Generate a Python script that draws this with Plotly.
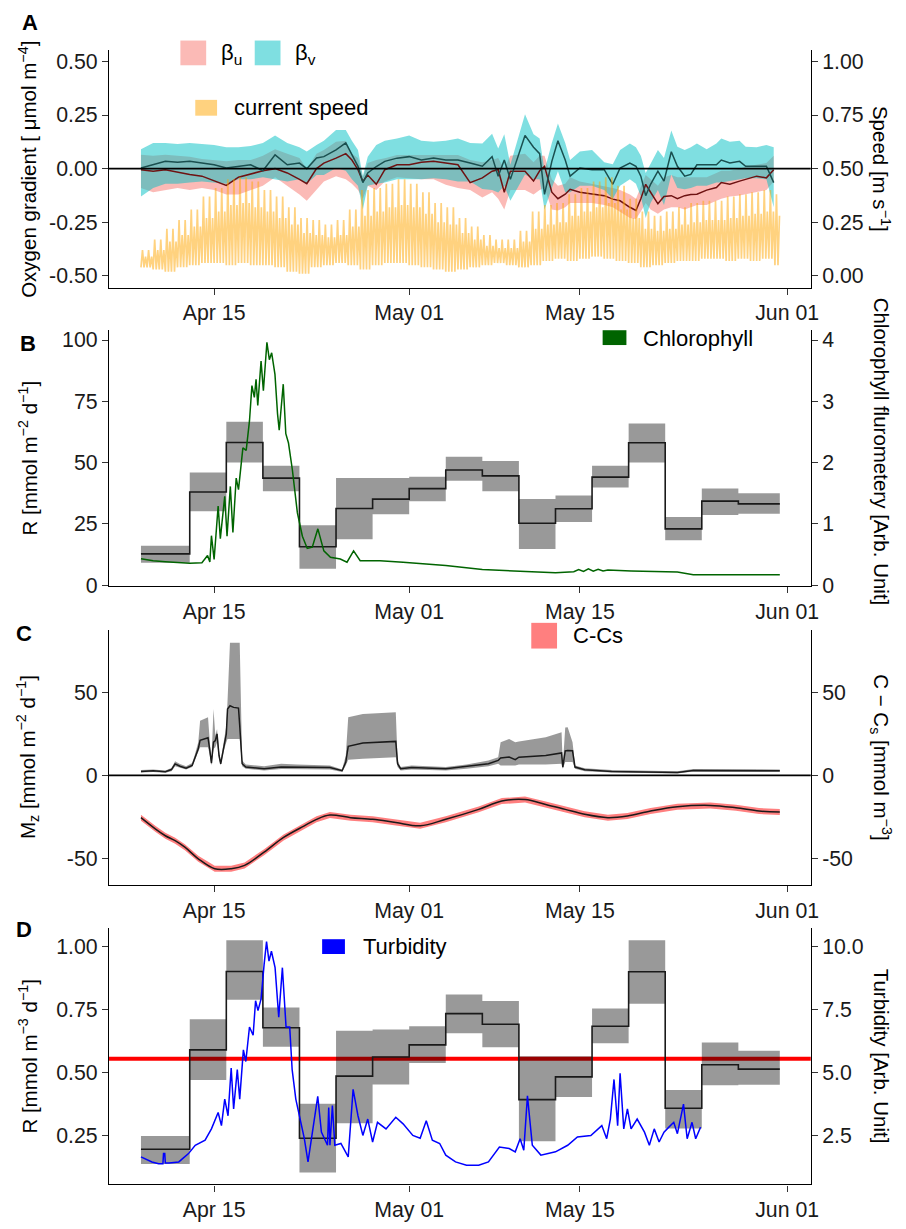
import plotly.graph_objects as go
from datetime import datetime, timedelta

W, H = 906, 1229
BASE = datetime(2018, 4, 15)          # day 0 = Apr 15


def dt(days):
    return [BASE + timedelta(days=float(d)) for d in days]


def px(x):
    return x / W


def py(y):
    return 1 - y / H


# ---------------- Panel A : oxygen gradients & current speed ----------------
beta_t = [-6, -5, -4, -3, -2, -1, 0, 1, 2, 3, 4, 5, 6, 7, 7.6, 8.4, 9, 10, 10.8, 11.3, 11.8, 12.2, 12.6, 13.3,
          14, 15, 16, 17, 18, 19, 20, 21, 22, 22.8, 23.3, 23.8, 24.3, 25.5, 26.2, 26.7, 27.1, 27.7, 28.2, 28.8,
          29.2, 30, 31, 32, 32.7, 33.3, 34.1, 34.6, 35.0, 35.4, 35.8, 36.4, 36.9, 37.5, 38, 38.6, 39.1, 39.6,
          40.4, 41.2, 41.6, 42.3, 43.1, 43.6, 44.5, 45.3, 45.9]
beta_v = [0.003, 0.018, 0.034, 0.03, 0.034, 0.026, 0.018, 0.003, 0.011, 0.018, -0.01, 0.064, 0.018, 0.026,
          0.0, 0.05, 0.056, 0.087, 0.12, 0.064, 0.011, -0.065, -0.02, 0.01,
          0.034, 0.049, 0.056, 0.04, 0.049, 0.04, 0.04, 0.026, 0.011,
          0.056, -0.035, 0.04, -0.05, 0.155, 0.10, 0.07, -0.12, 0.034, 0.13, 0.04, -0.035,
          0.003, -0.005, -0.005, -0.073, 0.003, 0.026, 0.011,
          -0.035, -0.126, -0.073, -0.012, -0.058, 0.079, 0.011, -0.035, -0.027, 0.018,
          0.018, 0.018, 0.04, 0.026, 0.034, 0.011, 0.011, 0.011, -0.065]
beta_v_lo = [-0.13, -0.09, -0.07, -0.07, -0.065, -0.06, -0.065, -0.07, -0.05, -0.05, -0.04, -0.05, -0.06, -0.05,
             -0.07, -0.03, -0.03, 0.003, -0.01, -0.05, -0.08, -0.19, -0.08, -0.07,
             -0.065, -0.05, -0.05, -0.05, -0.045, -0.05, -0.06, -0.06, -0.095,
             -0.10, -0.111, -0.08, -0.15, -0.027, -0.05, -0.05, -0.19, -0.09, -0.012, -0.11, -0.11,
             -0.08, -0.08, -0.10, -0.14, -0.08, -0.05, -0.07,
             -0.13, -0.23, -0.16, -0.10, -0.17, -0.027, -0.09, -0.096, -0.09, -0.08,
             -0.08, -0.065, -0.065, -0.058, -0.05, -0.045, -0.045, -0.05, -0.18]
beta_v_hi = [0.09, 0.12, 0.12, 0.115, 0.12, 0.115, 0.11, 0.10, 0.10, 0.105, 0.12, 0.155, 0.12, 0.10,
             0.08, 0.11, 0.13, 0.18, 0.18, 0.13, 0.087, -0.035, 0.056, 0.11,
             0.13, 0.14, 0.155, 0.13, 0.125, 0.13, 0.14, 0.12, 0.117,
             0.163, 0.094, 0.16, 0.018, 0.254, 0.16, 0.14, -0.01, 0.12, 0.21, 0.12, 0.04,
             0.08, 0.087, 0.03, 0.02, 0.087, 0.117, 0.10,
             0.06, -0.02, 0.02, 0.087, 0.05, 0.178, 0.102, 0.087, 0.10, 0.117,
             0.09, 0.117, 0.14, 0.125, 0.13, 0.102, 0.10, 0.11, 0.10]
beta_u = [-0.005, -0.012, -0.005, -0.017, -0.027, -0.035, -0.055, -0.078, -0.04, -0.025, -0.01, 0.0, -0.02, -0.05,
          -0.07, 0.0, 0.026, 0.049, 0.07, 0.04, -0.005, -0.06, -0.03, -0.073,
          -0.005, 0.018, 0.018, 0.03, 0.034, 0.026, 0.018, -0.065, -0.043,
          -0.012, -0.005, -0.11, -0.012, -0.012, -0.058, -0.01, 0.011, -0.11, -0.14, -0.119, -0.096,
          -0.11, -0.119, -0.126, -0.142, -0.15, -0.18, -0.195,
          -0.14, -0.073, -0.11, -0.164, -0.13, -0.126, -0.14, -0.126, -0.12, -0.119,
          -0.10, -0.088, -0.065, -0.073, -0.058, -0.05, -0.035, -0.043, -0.005]
beta_u_lo = [-0.09, -0.11, -0.10, -0.09, -0.10, -0.09, -0.10, -0.12, -0.12, -0.10, -0.08, -0.04, -0.08, -0.12,
             -0.15, -0.10, -0.06, -0.035, -0.05, -0.07, -0.10, -0.14, -0.08, -0.10,
             -0.06, -0.04, -0.045, -0.05, -0.05, -0.075, -0.09, -0.10, -0.134,
             -0.11, -0.14, -0.19, -0.10, -0.10, -0.12, -0.10, -0.09, -0.19, -0.195, -0.18, -0.16,
             -0.16, -0.16, -0.17, -0.18, -0.20, -0.23, -0.235,
             -0.20, -0.16, -0.19, -0.21, -0.19, -0.18, -0.18, -0.19, -0.18, -0.17,
             -0.17, -0.15, -0.14, -0.13, -0.125, -0.12, -0.11, -0.10, -0.06]
beta_u_hi = [0.065, 0.06, 0.065, 0.06, 0.055, 0.045, 0.04, 0.035, 0.04, 0.04, 0.06, 0.09, 0.07, 0.05,
             0.0, 0.07, 0.087, 0.125, 0.13, 0.07, 0.05, -0.04, 0.026, 0.04,
             0.049, 0.064, 0.064, 0.064, 0.064, 0.064, 0.064, 0.04, 0.03,
             0.04, 0.05, 0.0, 0.06, 0.07, 0.03, 0.06, 0.06, -0.05, -0.08, -0.07, -0.04,
             -0.06, -0.07, -0.08, -0.09, -0.10, -0.12, -0.14,
             -0.08, -0.03, -0.05, -0.08, -0.04, -0.03, -0.04, -0.04, -0.04, -0.04,
             -0.04, -0.02, -0.01, -0.01, 0.0, 0.01, 0.02, 0.026, 0.06]

speed_day = list(range(-6, 47))
speed_peak = [0.12, 0.17, 0.22, 0.26, 0.31, 0.37, 0.41, 0.45, 0.46, 0.44, 0.40, 0.37, 0.32, 0.27, 0.26, 0.24, 0.26,
              0.31, 0.40, 0.41, 0.43, 0.45, 0.43, 0.39, 0.34, 0.32, 0.27, 0.23, 0.19, 0.17, 0.17, 0.21, 0.30,
              0.33, 0.34, 0.38, 0.41, 0.44, 0.46, 0.42, 0.36, 0.30, 0.28, 0.30, 0.32, 0.34, 0.35, 0.35, 0.37,
              0.38, 0.39, 0.40, 0.38]
speed_minor = [0.09, 0.12, 0.16, 0.19, 0.23, 0.27, 0.30, 0.33, 0.34, 0.32, 0.30, 0.27, 0.24, 0.20, 0.19, 0.18,
               0.19, 0.23, 0.28, 0.30, 0.32, 0.33, 0.32, 0.29, 0.25, 0.24, 0.20, 0.17, 0.14, 0.13, 0.13, 0.16,
               0.22, 0.24, 0.25, 0.28, 0.30, 0.32, 0.34, 0.31, 0.27, 0.22, 0.21, 0.22, 0.24, 0.25, 0.26, 0.26,
               0.27, 0.28, 0.29, 0.30, 0.28]
speed_trough = [0.04, 0.03, 0.02, 0.04, 0.05, 0.06, 0.06, 0.05, 0.06, 0.05, 0.05, 0.04, 0.02, 0.01, 0.04, 0.05,
                0.06, 0.05, 0.03, 0.05, 0.06, 0.06, 0.05, 0.04, 0.03, 0.02, 0.03, 0.04, 0.05, 0.06, 0.05, 0.04,
                0.05, 0.07, 0.08, 0.07, 0.08, 0.09, 0.08, 0.07, 0.06, 0.04, 0.05, 0.06, 0.07, 0.07, 0.08, 0.08,
                0.07, 0.08, 0.07, 0.08, 0.05]
speed_end = 46.4

# ---------------- step periods shared by panels B and D ----------------
step_start = [-6, -2, 1, 4, 7, 10, 13, 16, 19, 22, 25, 28, 31, 34, 37, 40, 43]
step_end = 46.4

# ---------------- Panel B : areal respiration & chlorophyll ----------------
R_area = [12.8, 38.0, 58.2, 43.7, 15.7, 31.3, 35.1, 39.4, 47.0, 44.6, 25.3, 31.2, 44.1, 58.1, 23.0, 34.3, 33.2]
R_area_lo = [9.2, 30.2, 50.1, 38.3, 6.7, 18.8, 28.9, 34.3, 42.6, 38.3, 14.8, 25.8, 39.9, 50.1, 18.3, 28.6, 29.2]
R_area_hi = [16.1, 46.0, 66.7, 48.7, 24.5, 43.7, 43.7, 44.2, 52.4, 50.7, 35.2, 36.6, 48.7, 66.0, 27.8, 39.5, 37.5]

chl_t = [-6, -5, -4, -3, -2, -1, -0.54, -0.35, -0.22, 0.0, 0.33, 0.51, 0.87, 1.06, 1.33, 1.54, 1.81, 2.0,
         2.36, 2.63, 2.9, 3.1, 3.3, 3.44, 3.58, 3.85, 4.04, 4.33, 4.53, 4.72, 4.99, 5.2, 5.34, 5.67, 5.88, 6.1,
         6.42, 6.83, 7.24, 7.64, 8.05, 8.51, 9.0, 9.54, 10.35, 10.9, 11.44, 11.98, 13.6, 15.5, 19.0, 22.0, 25.0,
         28.0, 29.5, 29.9, 30.3, 30.7, 31.1, 31.5, 31.9, 32.3, 34.2, 38.0, 39.3, 46.4]
chl = [0.432, 0.40, 0.384, 0.376, 0.36, 0.368, 0.484, 0.38, 0.808, 0.42, 1.292, 0.76, 1.452, 0.80, 1.612, 0.86,
       1.748, 1.56, 2.24, 2.20, 2.68, 3.256, 3.064, 3.36, 2.932, 3.656, 3.172, 3.964, 3.68, 3.792, 3.44, 2.80,
       2.528, 3.28, 2.472, 2.32, 1.88, 1.18, 0.80, 0.60, 0.62, 0.92, 0.56, 0.456, 0.428, 0.376, 0.56, 0.40,
       0.40, 0.376, 0.32, 0.256, 0.232, 0.204, 0.22, 0.256, 0.224, 0.268, 0.228, 0.26, 0.232, 0.248, 0.232,
       0.216, 0.172, 0.172]

# ---------------- Panel C : Mz and C - Cs ----------------
mz_t = [-6.0, -5.0, -4.0, -3.5, -3.2, -2.8, -2.3, -1.8, -1.6, -1.3, -1.15, -0.5, -0.35, -0.22, -0.05, 0.1, 0.24,
        0.4, 0.54, 0.8, 1.0, 1.1, 1.3, 1.6, 2.0, 2.1, 2.3, 2.6, 4.1, 5.5, 6.8, 9.5, 10.5, 10.8, 11.0, 12.2, 14.9,
        15.05, 15.3, 16.2, 19.0, 20.7, 22.5, 23.3, 23.5, 24.2, 24.7, 25.0, 27.2, 28.5, 28.6, 28.8, 29.0, 29.4,
        29.6, 30.4, 32.6, 38.0, 39.3, 46.4]
mz = [2.4, 2.8, 2.2, 3.5, 6.9, 5.5, 4.3, 6.0, 10.0, 16.0, 21.2, 22.7, 15.0, 7.3, 20.0, 21.0, 25.0, 12.0, 7.0, 18.0,
      25.0, 40.0, 42.0, 41.0, 40.6, 30.0, 7.0, 5.0, 4.0, 5.0, 5.0, 4.8, 2.8, 8.0, 17.5, 19.5, 20.5, 7.0, 4.0, 4.8,
      4.0, 5.3, 7.0, 9.0, 10.5, 11.0, 9.5, 11.0, 12.0, 13.5, 5.0, 14.8, 15.0, 14.8, 5.0, 3.4, 2.4, 1.8, 3.0, 2.8]
mz_lo = [1.8, 2.0, 1.6, 2.5, 5.5, 4.5, 3.5, 5.0, 8.5, 14.0, 17.0, 17.0, 12.0, 6.0, 16.0, 17.0, 20.0, 10.0, 6.0,
         15.0, 20.0, 22.0, 22.0, 22.0, 22.0, 22.0, 5.5, 4.0, 3.0, 3.8, 3.8, 3.5, 2.0, 6.0, 9.4, 10.0, 11.0, 5.0,
         3.0, 3.5, 3.0, 4.0, 5.5, 7.0, 6.0, 6.0, 6.0, 6.5, 6.5, 7.0, 4.0, 8.0, 8.0, 8.0, 4.0, 2.5, 1.8, 1.2, 2.3,
         2.0]
mz_hi = [3.2, 3.6, 3.0, 4.5, 8.5, 6.8, 5.5, 7.5, 12.0, 20.0, 33.0, 35.0, 20.0, 9.0, 40.0, 24.0, 28.0, 15.0, 9.0,
         22.0, 30.0, 45.0, 80.0, 80.0, 80.0, 80.0, 9.0, 6.5, 5.5, 7.0, 6.5, 6.0, 3.6, 12.0, 35.0, 37.0, 38.0, 9.0,
         5.0, 6.0, 5.0, 6.5, 9.0, 11.0, 20.0, 22.0, 20.0, 20.5, 23.0, 26.0, 6.0, 28.8, 29.0, 20.0, 6.0, 4.3, 3.2,
         2.5, 3.8, 3.6]

ccs_t = [-6.0, -4.8, -4.0, -3.2, -2.4, -1.3, 0.05, 1.4, 2.5, 4.1, 5.7, 7.4, 8.4, 9.5, 11.2, 13.0, 14.9, 16.9,
         19.0, 21.7, 23.6, 25.5, 27.2, 28.8, 30.4, 32.3, 33.9, 35.8, 38.0, 40.7, 42.8, 44.7, 46.4]
ccs = [-25.5, -32.4, -36.4, -39.4, -43.3, -50.3, -56.3, -56.3, -54.3, -46.3, -37.4, -30.4, -26.5, -23.9, -25.5,
       -26.5, -28.4, -30.4, -26.5, -20.5, -15.5, -14.6, -17.5, -20.5, -23.5, -25.5, -24.5, -21.5, -18.9, -18.1,
       -19.5, -21.5, -22.1]
ccs_lo = [-27.3, -34.2, -38.2, -41.2, -45.1, -52.1, -58.1, -58.1, -56.1, -48.1, -39.2, -32.2, -28.3, -25.7, -27.3,
          -28.3, -30.2, -32.2, -28.3, -22.3, -17.3, -16.4, -19.3, -22.3, -25.3, -27.3, -26.3, -23.3, -20.7, -19.9,
          -21.3, -23.3, -23.9]
ccs_hi = [-23.7, -30.6, -34.6, -37.6, -41.5, -48.5, -54.5, -54.5, -52.5, -44.5, -35.6, -28.6, -24.7, -22.1, -23.7,
          -24.7, -26.6, -28.6, -24.7, -18.7, -13.7, -12.8, -15.7, -18.7, -21.7, -23.7, -22.7, -19.7, -17.1, -16.3,
          -17.7, -19.7, -20.3]

# ---------------- Panel D : volumetric respiration & turbidity ----------------
R_vol = [0.197, 0.591, 0.902, 0.679, 0.241, 0.487, 0.563, 0.611, 0.735, 0.693, 0.394, 0.484, 0.685, 0.901, 0.360,
         0.532, 0.515]
R_vol_lo = [0.139, 0.472, 0.790, 0.604, 0.105, 0.300, 0.454, 0.539, 0.657, 0.602, 0.229, 0.404, 0.617, 0.774,
            0.280, 0.451, 0.453]
R_vol_hi = [0.250, 0.713, 1.026, 0.759, 0.378, 0.667, 0.672, 0.685, 0.811, 0.785, 0.566, 0.566, 0.755, 1.026,
            0.432, 0.620, 0.588]
R_vol_mean = 0.556

turb_t = [-6.0, -5.1, -4.55, -4.2, -4.15, -4.05, -4.0, -3.7, -2.9, -2.1, -1.55, -0.74, -0.22, 0.33, 0.6, 0.87,
          1.14, 1.4, 1.6, 1.9, 2.1, 2.4, 2.6, 2.9, 3.2, 3.4, 3.6, 3.85, 4.1, 4.3, 4.5, 4.7, 5.0, 5.3, 5.6, 5.9,
          6.2, 6.4, 6.7, 7.0, 7.4, 7.7, 8.0, 8.5, 8.8, 9.3, 9.4, 9.5, 9.7, 9.9, 10.4, 11.0, 11.4, 11.8, 12.2,
          12.6, 13.0, 13.4, 14.1, 14.9, 15.5, 16.3, 16.9, 17.4, 17.9, 18.5, 19.0, 19.8, 20.7, 21.7, 22.5, 23.4,
          24.2, 24.7, 25.1, 25.4, 25.7, 26.1, 26.8, 28.0, 29.0, 29.8, 30.9, 31.8, 32.2, 32.5, 32.8, 33.1, 33.3,
          33.6, 33.9, 34.2, 34.7, 35.3, 35.7, 36.1, 36.5, 36.9, 37.3, 37.7, 38.0, 38.5, 38.8, 39.2, 39.5, 39.9]
turb = [1.67, 1.47, 1.40, 1.40, 1.80, 1.80, 1.43, 1.43, 1.47, 1.80, 2.13, 2.33, 2.78, 3.43, 2.91, 3.96, 3.30, 5.19,
        3.57, 5.13, 3.96, 5.91, 5.45, 6.82, 6.49, 7.86, 7.47, 7.93, 9.30, 10.2, 9.43, 9.82, 9.17, 7.21, 9.17, 6.82,
        6.82, 5.13, 3.96, 3.30, 2.39, 1.47, 2.39, 4.07, 2.65, 2.13, 3.63, 2.13, 3.70, 2.13, 2.20, 1.67, 4.35, 3.30,
        2.52, 3.17, 2.26, 3.04, 2.78, 3.24, 2.98, 2.52, 2.41, 3.10, 2.33, 2.20, 1.74, 1.47, 1.34, 1.34, 1.47, 2.06,
        2.00, 1.87, 2.39, 1.93, 4.09, 2.13, 1.74, 1.87, 2.13, 2.46, 2.52, 2.91, 2.39, 3.17, 4.74, 2.91, 4.98, 2.78,
        3.57, 2.78, 3.17, 2.65, 2.13, 2.78, 2.26, 2.65, 2.85, 3.04, 2.59, 3.76, 2.39, 3.04, 2.39, 2.85]

# ---------------- tick labels ----------------
date_ticks = [0, 16, 30, 47]
date_labels = ["Apr 15", "May 01", "May 15", "Jun 01"]

# ======================================================================
FONT = "Liberation Sans, Arial, sans-serif"
GRAY_RIBBON = "rgba(0,0,0,0.4)"
fig = go.Figure()


def poly_band(t, lo, hi, xa, ya, color):
    fig.add_trace(go.Scatter(x=dt(list(t) + list(t)[::-1]), y=list(hi) + list(lo)[::-1], fill="toself",
                             fillcolor=color, line=dict(width=0), mode="lines", xaxis=xa, yaxis=ya,
                             hoverinfo="skip", showlegend=False))


def step_band(lo, hi, xa, ya, color):
    xs = dt(step_start + [step_end])
    fig.add_trace(go.Scatter(x=xs, y=lo + [lo[-1]], mode="lines", line=dict(width=0, shape="hv"),
                             xaxis=xa, yaxis=ya, hoverinfo="skip", showlegend=False))
    fig.add_trace(go.Scatter(x=xs, y=hi + [hi[-1]], mode="lines", line=dict(width=0, shape="hv"),
                             fill="tonexty", fillcolor=color, xaxis=xa, yaxis=ya, hoverinfo="skip",
                             showlegend=False))


def step_line(vals, xa, ya):
    fig.add_trace(go.Scatter(x=dt(step_start + [step_end]), y=vals + [vals[-1]], mode="lines",
                             line=dict(color="#1a1a1a", width=1.6, shape="hv"), xaxis=xa, yaxis=ya,
                             showlegend=False))


def line(t, v, xa, ya, color, width=1.5, shape="linear"):
    fig.add_trace(go.Scatter(x=dt(t), y=v, mode="lines", line=dict(color=color, width=width, shape=shape),
                             xaxis=xa, yaxis=ya, showlegend=False))


# ---- Panel A ----
poly_band(beta_t, beta_u_lo, beta_u_hi, "x", "y", "rgba(248,118,109,0.5)")
poly_band(beta_t, beta_v_lo, beta_v_hi, "x", "y", "rgba(0,191,196,0.5)")
line(beta_t, beta_u, "x", "y", "#6e1212", 1.5)
line(beta_t, beta_v, "x", "y", "#1a4f4f", 1.5)

sp_t, sp_v = [], []
for d, lo, pk, mi in zip(speed_day, speed_trough, speed_peak, speed_minor):
    for k, v in enumerate([lo, pk, lo, mi, lo, pk, lo, mi]):
        t = d + k / 8
        if t <= speed_end:
            sp_t.append(t)
            sp_v.append(v)
line(sp_t, sp_v, "x", "y2", "rgba(255,165,0,0.5)", 1.7)

# ---- Panel B ----
step_band(R_area_lo, R_area_hi, "x2", "y3", GRAY_RIBBON)
step_line(R_area, "x2", "y3")
line(chl_t, chl, "x2", "y4", "#006400", 1.5)

# ---- Panel C ----
poly_band(mz_t, mz_lo, mz_hi, "x3", "y5", GRAY_RIBBON)
line(mz_t, mz, "x3", "y5", "#1a1a1a", 1.5)
poly_band(ccs_t, ccs_lo, ccs_hi, "x3", "y6", "rgba(255,0,0,0.5)")
line(ccs_t, ccs, "x3", "y6", "#1a1a1a", 1.5, "spline")

# ---- Panel D ----
step_band(R_vol_lo, R_vol_hi, "x4", "y7", GRAY_RIBBON)
step_line(R_vol, "x4", "y7")
line(turb_t, turb, "x4", "y8", "#0000ff", 1.5)

# ======================================================================
TICKFONT = dict(family=FONT, size=21.3, color="#1a1a1a")
common = dict(showline=True, linecolor="black", linewidth=1.3, ticks="outside", ticklen=6, tickwidth=1.3,
              tickcolor="#333333", showgrid=False, zeroline=False, tickfont=TICKFONT)
x_dom = [px(110), px(818)]
x_common = dict(common, type="date", range=dt([-8.62, 48.94]), tickvals=dt(date_ticks), ticktext=date_labels,
                domain=x_dom)


def fmt(vals, f):
    return [f.format(v) for v in vals]


A_dom = [py(289), py(49)]
B_dom = [py(590.7), py(332)]
C_dom = [py(893), py(635)]
D_dom = [py(1196), py(937)]

a_left = [-0.5, -0.25, 0, 0.25, 0.5]
a_right = [0, 0.25, 0.5, 0.75, 1.0]
b_left = [0, 25, 50, 75, 100]
b_right = [0, 1, 2, 3, 4]
c_ticks = [-50, 0, 50]
d_left = [0.25, 0.5, 0.75, 1.0]
d_right = [2.5, 5.0, 7.5, 10.0]

fig.update_layout(
    width=W, height=H, margin=dict(l=0, r=0, t=0, b=0), paper_bgcolor="white", plot_bgcolor="white",
    showlegend=False, font=dict(family=FONT, size=20, color="black"),
    xaxis=dict(x_common, anchor="y"),
    xaxis2=dict(x_common, anchor="y3"),
    xaxis3=dict(x_common, anchor="y5"),
    xaxis4=dict(x_common, anchor="y7"),
    yaxis=dict(common, domain=A_dom, anchor="x", range=[-0.555, 0.551], tickvals=a_left,
               ticktext=fmt(a_left, "{:.2f}")),
    yaxis2=dict(common, overlaying="y", side="right", anchor="x", range=[-0.055, 1.051], tickvals=a_right,
                ticktext=fmt(a_right, "{:.2f}")),
    yaxis3=dict(common, domain=B_dom, anchor="x2", range=[-0.3, 104], tickvals=b_left,
                ticktext=[str(v) for v in b_left]),
    yaxis4=dict(common, overlaying="y3", side="right", anchor="x2", range=[-0.012, 4.16], tickvals=b_right,
                ticktext=[str(v) for v in b_right]),
    yaxis5=dict(common, domain=C_dom, anchor="x3", range=[-66, 87.8], tickvals=c_ticks,
                ticktext=[str(v) for v in c_ticks]),
    yaxis6=dict(common, overlaying="y5", side="right", anchor="x3", range=[-66, 87.8], tickvals=c_ticks,
                ticktext=[str(v) for v in c_ticks]),
    yaxis7=dict(common, domain=D_dom, anchor="x4", range=[0.058, 1.073], tickvals=d_left,
                ticktext=fmt(d_left, "{:.2f}")),
    yaxis8=dict(common, overlaying="y7", side="right", anchor="x4", range=[0.58, 10.73], tickvals=d_right,
                ticktext=fmt(d_right, "{:.1f}")),
)

shapes = [
    dict(type="line", xref="x domain", x0=0, x1=1, yref="y", y0=0, y1=0, line=dict(color="black", width=1.6),
         layer="above"),
    dict(type="line", xref="x3 domain", x0=0, x1=1, yref="y5", y0=0, y1=0, line=dict(color="black", width=1.6),
         layer="above"),
    dict(type="line", xref="x4 domain", x0=0, x1=1, yref="y7", y0=R_vol_mean, y1=R_vol_mean,
         line=dict(color="red", width=4), layer="below"),
]


def key(x0, y0, x1, y1, color):
    shapes.append(dict(type="rect", xref="paper", yref="paper", x0=px(x0), x1=px(x1), y0=py(y1), y1=py(y0),
                       fillcolor=color, line=dict(width=0), layer="above"))


key(182, 39, 208, 64, "rgba(248,118,109,0.5)")
key(257, 39, 283, 64, "rgba(0,191,196,0.5)")
key(197, 99, 219, 115, "rgba(255,165,0,0.5)")
key(608, 332, 632, 347, "#006400")
key(536, 628, 562, 654, "rgba(255,0,0,0.5)")
key(325, 948, 348, 963, "#0000ff")
fig.update_layout(shapes=shapes)

ann = []


def text(x, y, s, size=20, angle=0, xanchor="left", bold=False):
    ann.append(dict(xref="paper", yref="paper", x=px(x), y=py(y), text=(f"<b>{s}</b>" if bold else s),
                    showarrow=False, xanchor=xanchor, yanchor="middle", textangle=angle,
                    font=dict(family=FONT, size=size, color="black")))


# panel letters
text(30, 21, "A", 22, xanchor="center", bold=True)
text(28, 345, "B", 22, xanchor="center", bold=True)
text(24, 639, "C", 22, xanchor="center", bold=True)
text(24, 938, "D", 22, xanchor="center", bold=True)
# legends
text(221, 53, "β<sub>u</sub>", 22)
text(296, 53, "β<sub>v</sub>", 22)
text(234, 107, "current speed", 22)
text(647, 340, "Chlorophyll", 22)
text(576, 641, "C-Cs", 22)
text(364, 955, "Turbidity", 22)
# axis titles
TS = 20.5
text(28, 169, "Oxygen gradient [ μmol m<sup>−4</sup>]", TS, -90, "center")
text(889, 169, "Speed [m s<sup>−1</sup>]", TS, 90, "center")
text(28, 461, "R [mmol m<sup>−2</sup> d<sup>−1</sup>]", TS, -90, "center")
text(889, 455, "Chlorophyll flurometery [Arb. Unit]", TS, 90, "center")
text(28, 764, "M<sub>z</sub> [mmol m<sup>−2</sup> d<sup>−1</sup>]", TS, -90, "center")
text(889, 764, "C − C<sub>s</sub> [mmol m<sup>−3</sup>]", TS, 90, "center")
text(28, 1066, "R [mmol m<sup>−3</sup> d<sup>−1</sup>]", TS, -90, "center")
text(889, 1066, "Turbidity [Arb. Unit]", TS, 90, "center")
fig.update_layout(annotations=ann)

fig.write_html("out.html")
